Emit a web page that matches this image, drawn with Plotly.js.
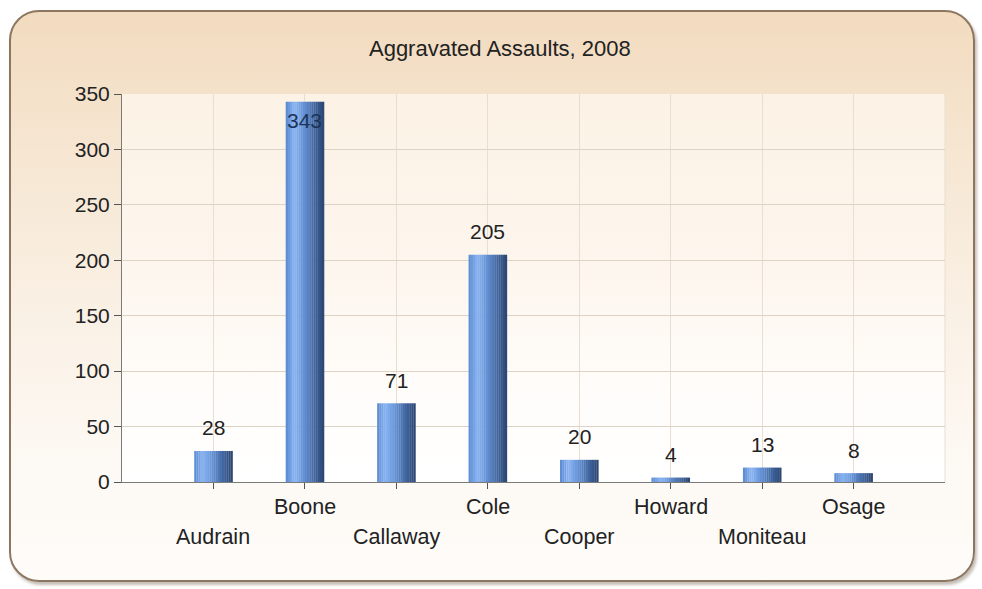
<!DOCTYPE html>
<html>
<head>
<meta charset="utf-8">
<script src="https://cdn.plot.ly/plotly-3.0.1.min.js"></script>
<style>
  html, body { margin: 0; padding: 0; width: 982px; height: 589px; overflow: hidden; background: #ffffff; }
  #frame {
    position: absolute; left: 9px; top: 10px; width: 962px; height: 568px;
    border: 2px solid #8d7660; border-radius: 30px;
    background: linear-gradient(to bottom, #f2dbbf 0%, #f6e6d2 25%, #faf1e6 55%, #fdf9f4 80%, #fefcf9 100%);
    box-shadow: 2px 3px 3px rgba(90,70,50,0.35);
  }
  #plotbg {
    position: absolute; left: 122px; top: 94px; width: 823px; height: 388px;
    background: linear-gradient(to bottom, #fcf2e5 0%, #fdf6ee 45%, #fffdfb 80%, #ffffff 100%);
  }
  #chart { position: absolute; left: 0; top: 0; width: 982px; height: 589px; }
</style>
</head>
<body>
<div id="frame"></div>
<div id="plotbg"></div>
<div id="chart"></div>
<script>
// ---- data ----
const categories = ['Audrain', 'Boone', 'Callaway', 'Cole', 'Cooper', 'Howard', 'Moniteau', 'Osage'];
const assaults = [28, 343, 71, 205, 20, 4, 13, 8];
const chartTitle = 'Aggravated Assaults, 2008';

// ---- style ----
const FONT = 'Liberation Sans, Arial, sans-serif';
const yMax = 350;
const barWidth = 0.42;
// cylinder shading: colour stops across the bar width (left -> right)
const stops = [[0, [88, 136, 208]], [0.22, [138, 180, 242]], [0.45, [104, 150, 218]], [0.75, [66, 102, 160]], [1, [42, 68, 110]]];
const NSLICES = 18;
function shadeAt(t) {
  for (let s = 0; s < stops.length - 1; s++) {
    const [t0, c0] = stops[s], [t1, c1] = stops[s + 1];
    if (t <= t1) {
      const f = (t - t0) / (t1 - t0);
      const c = c0.map((v, j) => Math.round(v + (c1[j] - v) * f));
      return 'rgb(' + c.join(',') + ')';
    }
  }
  return 'rgb(' + stops[stops.length - 1][1].join(',') + ')';
}
const sliceW = barWidth / NSLICES;

const traces = [];
for (let k = 0; k < NSLICES; k++) {
  traces.push({
    type: 'bar',
    x: categories,
    y: assaults,
    width: sliceW + 0.002,
    offset: -barWidth / 2 + k * sliceW,
    marker: { color: shadeAt((k + 0.5) / NSLICES), line: { width: 0 } },
    hoverinfo: 'skip',
    showlegend: false
  });
}

const annotations = [];
categories.forEach((cat, i) => {
  annotations.push({
    x: cat, xref: 'x', y: 0, yref: 'paper',
    text: cat, showarrow: false, yanchor: 'middle',
    yshift: (i % 2 === 0) ? -55 : -25,
    font: { family: FONT, size: 21.5, color: '#222222' }
  });
  const v = assaults[i];
  const inside = v > yMax - 25;
  annotations.push({
    x: cat, xref: 'x', y: v, yref: 'y',
    text: String(v), showarrow: false, yanchor: 'middle',
    yshift: inside ? -19 : 23,
    font: { family: FONT, size: 21, color: inside ? '#1c3458' : '#222222' }
  });
});

const layout = {
  width: 982, height: 589,
  paper_bgcolor: 'rgba(0,0,0,0)',
  plot_bgcolor: 'rgba(0,0,0,0)',
  margin: { l: 122, r: 37, t: 94, b: 107, pad: 0 },
  barmode: 'overlay',
  font: { family: FONT, size: 21, color: '#222222' },
  title: {
    text: chartTitle,
    x: 0.509, xanchor: 'center',
    y: 1 - 48 / 589, yref: 'container', yanchor: 'middle',
    font: { family: FONT, size: 22, color: '#222222' }
  },
  xaxis: {
    type: 'category',
    range: [-1, 8],
    showticklabels: false,
    ticks: 'outside', ticklen: 6, tickcolor: '#555555', tickwidth: 1,
    showgrid: true, gridcolor: '#e8dfd2', gridwidth: 1,
    showline: true, linecolor: '#7a7a7a', linewidth: 1,
    zeroline: false, fixedrange: true
  },
  yaxis: {
    range: [0, yMax],
    dtick: 50, tick0: 0,
    ticks: 'outside', ticklen: 7, tickcolor: '#555555', tickwidth: 1,
    showgrid: true, gridcolor: '#ddd2c3', gridwidth: 1,
    showline: true, linecolor: '#7a7a7a', linewidth: 1,
    zeroline: false, fixedrange: true,
    tickfont: { family: FONT, size: 21, color: '#222222' }
  },
  shapes: [{
    type: 'line', xref: 'paper', yref: 'paper', x0: 1, x1: 1, y0: 0, y1: 1,
    line: { color: '#e8dfd2', width: 1 }, layer: 'below'
  }],
  annotations: annotations
};

Plotly.newPlot('chart', traces, layout, { displayModeBar: false, staticPlot: true });
</script>
</body>
</html>
